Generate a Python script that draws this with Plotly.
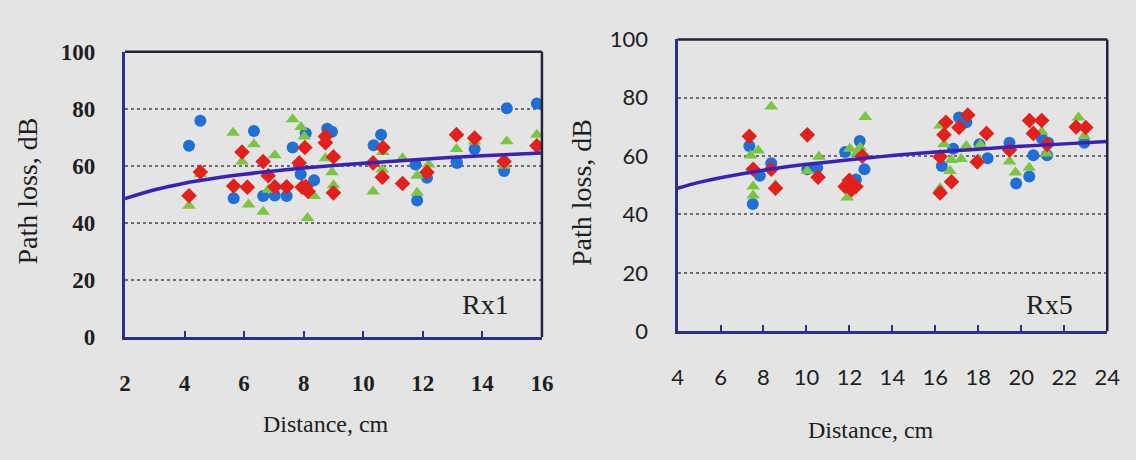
import plotly.graph_objects as go

# ---------------- data: Rx1 (left panel) ----------------
rx1_blue_x = [4.15, 4.53, 5.65, 6.33, 6.64, 7.03, 7.43, 7.63, 7.9, 8.07, 8.35, 8.79, 8.95, 10.35, 10.6, 11.76, 12.14, 11.81, 13.13, 13.15, 13.74, 14.73, 14.82, 15.83]
rx1_blue_y = [67, 75.8, 48.6, 72.2, 49.4, 49.6, 49.4, 66.4, 57, 71.4, 54.9, 73, 71.9, 67.2, 70.9, 60.4, 55.8, 47.8, 61.5, 61, 65.9, 58.2, 80.2, 81.8]
rx1_red_x = [4.15, 4.53, 5.65, 5.93, 6.11, 6.64, 6.81, 7.03, 7.43, 7.85, 8.04, 7.95, 8.15, 8.73, 8.73, 9.0, 9.0, 8.07, 10.33, 10.66, 10.64, 11.32, 12.14, 13.13, 13.74, 14.73, 15.83]
rx1_red_y = [49.5, 57.8, 52.9, 64.8, 52.5, 61.5, 56.5, 52.6, 52.6, 61, 66.4, 52.5, 51, 70.3, 68.1, 63.1, 50.5, 52.7, 61, 66.4, 56, 53.8, 57.7, 70.9, 69.7, 61.5, 67]
rx1_green_x = [4.15, 4.53, 5.63, 5.93, 6.15, 6.33, 6.64, 6.81, 7.03, 7.63, 7.91, 8.02, 8.13, 8.35, 8.73, 8.95, 9.0, 10.33, 10.66, 10.64, 11.32, 11.81, 12.2, 11.81, 13.13, 13.74, 14.82, 14.73, 15.83]
rx1_green_y = [46, 57, 71.6, 61.5, 46.4, 67.5, 43.9, 51.6, 63.7, 76.3, 73.6, 70.3, 41.7, 49.4, 62.6, 57.7, 53.2, 51, 64.8, 58.7, 62.6, 56.5, 60.4, 50.5, 65.9, 68.5, 68.6, 60, 70.9]
rx1_fit_x = [2, 3, 4, 5, 6, 7, 8, 10, 12, 14, 16]
rx1_fit_y = [48.5, 51.6, 53.9, 55.6, 57.0, 58.2, 59.2, 60.9, 62.3, 63.5, 64.5]

# ---------------- data: Rx5 (right panel) ----------------
rx5_blue_x = [7.34, 7.83, 7.5, 8.36, 10.04, 10.5, 11.8, 12.48, 12.7, 12.3, 16.3, 16.83, 17.1, 17.44, 18.05, 18.43, 19.45, 19.76, 20.37, 20.56, 20.95, 21.25, 21.2, 22.93]
rx5_blue_y = [63.5, 53.3, 43.6, 57.6, 55.5, 56, 61.4, 65.2, 55.5, 52, 56.6, 62.5, 73.2, 71.6, 64.1, 59.3, 64.6, 50.6, 53, 60.3, 66.2, 64.6, 60.3, 64.6]
rx5_red_x = [7.34, 7.52, 8.36, 8.56, 10.04, 10.54, 12.0, 11.8, 12.3, 12.1, 12.6, 16.49, 16.4, 16.22, 16.75, 16.22, 17.51, 17.1, 18.38, 17.95, 19.45, 20.38, 20.95, 20.56, 21.2, 22.55, 23.0]
rx5_red_y = [66.8, 55.5, 55.5, 49, 67.3, 52.8, 51.7, 49.6, 49.6, 48.5, 60, 71.6, 67.3, 59.8, 51.2, 47.4, 74.1, 69.8, 67.8, 58, 62.1, 72.2, 72.2, 67.8, 64, 70, 69.8]
rx5_green_x = [8.36, 7.4, 7.75, 7.52, 7.52, 8.56, 10.04, 10.58, 12.02, 12.33, 11.9, 12.74, 12.5, 16.22, 16.4, 16.75, 16.68, 16.22, 17.44, 17.2, 18.1, 18.0, 19.45, 19.73, 20.37, 20.95, 21.18, 22.66, 22.93]
rx5_green_y = [77, 60.2, 61.9, 49.6, 46.5, 50.1, 54.9, 59.8, 62.5, 60.9, 45.8, 73.4, 63, 70.5, 64.1, 58.7, 54.9, 49, 63.5, 59, 64, 59, 58.2, 54.4, 56, 68.4, 60.9, 73.2, 66.8]
rx5_fit_x = [4, 5, 6, 8, 10, 12, 14, 16, 18, 20, 22, 24]
rx5_fit_y = [49.0, 51.0, 52.6, 55.2, 57.2, 58.8, 60.2, 61.4, 62.4, 63.4, 64.2, 65.0]

y_ticks = [0, 20, 40, 60, 80, 100]
rx1_x_ticks = [2, 4, 6, 8, 10, 12, 14, 16]
rx5_x_ticks = [4, 6, 8, 10, 12, 14, 16, 18, 20, 22, 24]

BLUE = "#1f6fd6"
RED = "#e3201c"
GREEN = "#7dc540"
NAVY = "#2c2f8f"
FIT = "#3a22b8"
BG = "#e4e4e4"
TXT = "#1e1e1e"

fig = go.Figure()

def add_panel(xa, ya, bx, by, rx, ry, gx, gy, fx, fy):
    fig.add_trace(go.Scatter(x=bx, y=by, mode="markers", xaxis=xa, yaxis=ya,
                             marker=dict(symbol="circle", size=12, color=BLUE), showlegend=False))
    fig.add_trace(go.Scatter(x=gx, y=gy, mode="markers", xaxis=xa, yaxis=ya,
                             marker=dict(symbol="triangle-up", size=12, color=GREEN), showlegend=False))
    fig.add_trace(go.Scatter(x=rx, y=ry, mode="markers", xaxis=xa, yaxis=ya,
                             marker=dict(symbol="diamond", size=12, color=RED), showlegend=False))
    fig.add_trace(go.Scatter(x=fx, y=fy, mode="lines", xaxis=xa, yaxis=ya,
                             line=dict(color=FIT, width=3.5, shape="spline"), showlegend=False))

add_panel("x", "y", rx1_blue_x, rx1_blue_y, rx1_red_x, rx1_red_y, rx1_green_x, rx1_green_y, rx1_fit_x, rx1_fit_y)
add_panel("x2", "y2", rx5_blue_x, rx5_blue_y, rx5_red_x, rx5_red_y, rx5_green_x, rx5_green_y, rx5_fit_x, rx5_fit_y)

serif = "Liberation Serif"
sans = "Lato"

common_y = dict(range=[0, 100], tickvals=y_ticks, showgrid=True, gridcolor="#6b6b7a",
                griddash="dot", gridwidth=1.5, zeroline=False, showline=True,
                linecolor=NAVY, linewidth=3, ticks="")
common_x = dict(showgrid=False, zeroline=False, showline=True, linecolor=NAVY, linewidth=3,
                ticks="inside", ticklen=6, tickwidth=2, tickcolor=NAVY, ticklabelstandoff=24)

fig.update_layout(
    width=1136, height=460,
    margin=dict(l=0, r=0, t=0, b=0),
    paper_bgcolor=BG, plot_bgcolor=BG,
    xaxis=dict(domain=[0.1065, 0.4798], range=[2, 16], tickvals=rx1_x_ticks,
               tickfont=dict(family=serif, size=23, color=TXT, weight="bold"), anchor="y", **common_x),
    yaxis=dict(domain=[0.2543, 0.913], anchor="x", ticklabelstandoff=22,
               tickfont=dict(family=serif, size=23, color=TXT, weight="bold"), **common_y),
    xaxis2=dict(domain=[0.6012, 0.9859], range=[4, 24], tickvals=rx5_x_ticks,
                tickfont=dict(family=sans, size=22, color=TXT), anchor="y2", **common_x),
    yaxis2=dict(domain=[0.2674, 0.9413], anchor="x2", ticklabelstandoff=22,
                tickfont=dict(family=sans, size=22, color=TXT), **common_y),
)

# top / right borders
for xa, ya in (("x", "y"), ("x2", "y2")):
    fig.add_shape(type="line", xref=f"{xa} domain", yref=f"{ya} domain", x0=0, x1=1, y0=1, y1=1,
                  line=dict(color="#23233a", width=2.5))
    fig.add_shape(type="line", xref=f"{xa} domain", yref=f"{ya} domain", x0=1, x1=1, y0=0, y1=1,
                  line=dict(color="#23233a", width=2.5))

ann = [
    dict(text="Rx1", x=0.925, y=0.115, xref="x domain", yref="y domain", xanchor="right",
         font=dict(family=serif, size=28, color=TXT)),
    dict(text="Rx5", x=0.924, y=0.09, xref="x2 domain", yref="y2 domain", xanchor="right",
         font=dict(family=serif, size=28, color=TXT)),
    dict(text="Path loss, dB", x=22, y=188, xref="paper", yref="paper", textangle=-90,
         font=dict(family=serif, size=28, color=TXT)),
    dict(text="Path loss, dB", x=586, y=190, xref="paper", yref="paper", textangle=-90,
         font=dict(family=serif, size=28, color=TXT)),
    dict(text="Distance, cm", x=325, y=436, xref="paper", yref="paper",
         font=dict(family=serif, size=24, color=TXT)),
    dict(text="Distance, cm", x=880, y=442, xref="paper", yref="paper",
         font=dict(family=serif, size=24, color=TXT)),
]
for a in ann:
    if a["xref"] == "paper":
        a["x"] = a["x"] / 1136
        a["y"] = 1 - a["y"] / 460
    a.setdefault("xanchor", "center")
    a.update(showarrow=False, yanchor="middle")
    fig.add_annotation(**a)

fig.write_html("out.html")
